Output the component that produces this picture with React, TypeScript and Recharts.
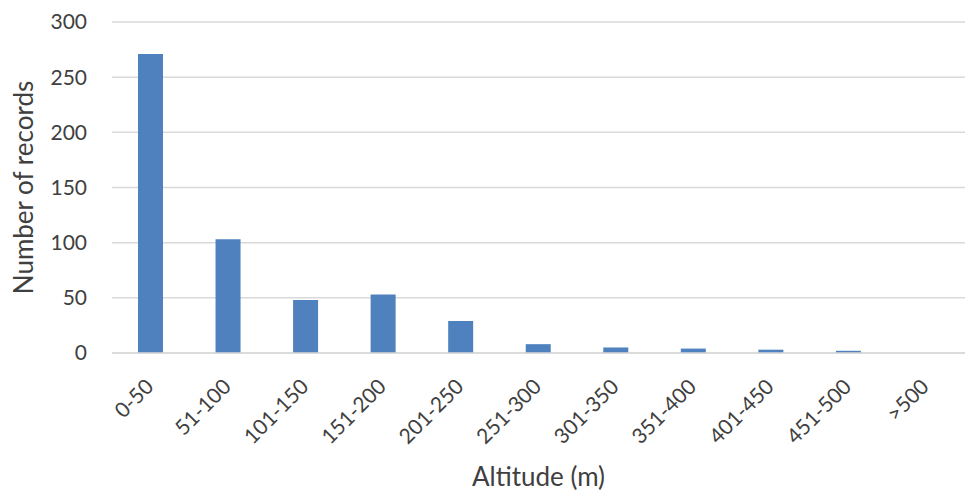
import { BarChart, Bar, XAxis, YAxis, CartesianGrid, Label } from 'recharts'

const FAIXAS = ['0-50', '51-100', '101-150', '151-200', '201-250', '251-300', '301-350', '351-400', '401-450', '451-500', '>500']
const REGISTROS = [271, 103, 48, 53, 29, 8, 5, 4, 3, 2, 0]
const Y_TICKS = [0, 50, 100, 150, 200, 250, 300]

const dados = FAIXAS.map((faixa, i) => ({ faixa, registros: REGISTROS[i] }))

const FONTE = 'Lato, "Open Sans", sans-serif'
const COR_TEXTO = '#404040'

function TickInclinado(props: any) {
  const { x, y, payload } = props
  const px = x + 4
  const py = y + 27
  return (
    <text
      x={px} y={py}
      transform={`rotate(-45, ${px}, ${py})`}
      textAnchor="end"
      fontSize={21}
      fontFamily={FONTE}
      fill={COR_TEXTO}
    >
      {payload.value}
    </text>
  )
}

export default function App() {
  return (
    <div style={{ position: 'absolute', left: 0, top: 0, background: '#fff' }}>
      <BarChart
        width={965} height={492} data={dados}
        margin={{ top: 22, right: 0, left: 0, bottom: 0 }}
      >
        <CartesianGrid stroke="#d9d9d9" strokeWidth={1.5} vertical={false} />
        <XAxis
          dataKey="faixa" height={139} interval={0}
          tick={<TickInclinado />} tickLine={false}
          axisLine={{ stroke: '#d9d9d9', strokeWidth: 1.5 }}
        >
          <Label
            value="Altitude (m)" position="insideBottom" offset={6}
            style={{ fontSize: 26, fontFamily: FONTE, fill: COR_TEXTO }}
          />
        </XAxis>
        <YAxis
          domain={[0, 300]} ticks={Y_TICKS} width={112}
          axisLine={false} tickLine={false}
          tick={{ fontSize: 21, fontFamily: FONTE, fill: COR_TEXTO, dx: -17 }}
        >
          <Label
            value="Number of records" angle={-90} position="insideLeft" offset={24}
            style={{ fontSize: 26, fontFamily: FONTE, fill: COR_TEXTO, textAnchor: 'middle' }}
          />
        </YAxis>
        <Bar dataKey="registros" fill="#4e81bd" barSize={25} isAnimationActive={false} />
      </BarChart>
    </div>
  )
}
